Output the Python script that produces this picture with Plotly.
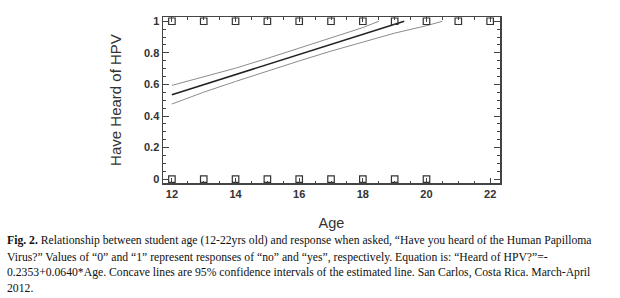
import plotly.graph_objects as go

# Observed responses (0 = no, 1 = yes)
ages_yes = [12, 13, 14, 15, 16, 17, 18, 19, 20, 21, 22]
heard_yes = [1, 1, 1, 1, 1, 1, 1, 1, 1, 1, 1]
ages_no = [12, 13, 14, 15, 16, 17, 18, 19, 20]
heard_no = [0, 0, 0, 0, 0, 0, 0, 0, 0]

# Estimated line
age_fit = [12, 13, 14, 15, 16, 17, 18, 19, 19.3]
heard_fit = [0.535, 0.599, 0.662, 0.726, 0.790, 0.853, 0.917, 0.980, 1.0]

# 95% confidence bands
age_upper = [12, 13, 14, 15, 16, 17, 18, 18.5]
heard_upper = [0.594, 0.647, 0.703, 0.765, 0.829, 0.893, 0.960, 1.0]
age_lower = [12, 13, 14, 15, 16, 17, 18, 19, 20, 20.5]
heard_lower = [0.476, 0.551, 0.619, 0.685, 0.749, 0.811, 0.870, 0.925, 0.972, 1.0]

x_ticks = [12, 14, 16, 18, 20, 22]
y_ticks = [0, 0.2, 0.4, 0.6, 0.8, 1]
y_labels = ["0", "0.2", "0.4", "0.6", "0.8", "1"]

caption_lines = [
    "<b>Fig. 2.</b> Relationship between student age (12-22yrs old) and response when asked, “Have you heard of the Human Papilloma",
    "Virus?” Values of “0” and “1” represent responses of “no” and “yes”, respectively. Equation is: “Heard of HPV?”=-",
    "0.2353+0.0640*Age. Concave lines are 95% confidence intervals of the estimated line. San Carlos, Costa Rica. March-April",
    "2012.",
]

fig = go.Figure()
fig.add_trace(go.Scatter(x=age_upper, y=heard_upper, mode="lines",
                         line=dict(color="#8c8c8c", width=1), showlegend=False))
fig.add_trace(go.Scatter(x=age_lower, y=heard_lower, mode="lines",
                         line=dict(color="#8c8c8c", width=1), showlegend=False))
fig.add_trace(go.Scatter(x=age_fit, y=heard_fit, mode="lines",
                         line=dict(color="#222222", width=1.6), showlegend=False))
fig.add_trace(go.Scatter(x=ages_yes, y=heard_yes, mode="markers",
                         marker=dict(symbol="square-open", size=6.5, color="#333333",
                                     line=dict(width=1.2)),
                         showlegend=False, cliponaxis=False))
fig.add_trace(go.Scatter(x=ages_no, y=heard_no, mode="markers",
                         marker=dict(symbol="square-open", size=6.5, color="#333333",
                                     line=dict(width=1.2)),
                         showlegend=False, cliponaxis=False))

fig.update_xaxes(range=[11.72, 22.31], tickvals=x_ticks, ticktext=[str(v) for v in x_ticks],
                 ticks="inside", ticklen=5, tickwidth=1, tickcolor="#444444",
                 minor=dict(dtick=0.5, tick0=12, ticks="inside", ticklen=2.5, tickcolor="#444444"),
                 showline=True, linecolor="#444444", linewidth=1.5, mirror="allticks",
                 showgrid=False, zeroline=False,
                 tickfont=dict(family="Liberation Sans, Arial", size=11, color="#333333", weight="bold"),
                 title=dict(text="Age", font=dict(family="Liberation Sans, Arial", size=14.5, color="#333333"),
                            standoff=19))
fig.update_yaxes(range=[-0.024, 1.027], tickvals=y_ticks, ticktext=y_labels,
                 ticks="inside", ticklen=6, tickwidth=1, tickcolor="#444444",
                 minor=dict(dtick=0.05, tick0=0, ticks="inside", ticklen=3, tickcolor="#444444"),
                 showline=True, linecolor="#444444", linewidth=1.5, mirror="allticks",
                 showgrid=False, zeroline=False,
                 tickfont=dict(family="Liberation Sans, Arial", size=11, color="#333333", weight="bold"),
                 title=dict(text="Have Heard of HPV",
                            font=dict(family="Liberation Sans, Arial", size=15, color="#333333"),
                            standoff=19))

line_y = [241, 257, 272.5, 288]
for txt, yy in zip(caption_lines, line_y):
    fig.add_annotation(text=txt, xref="paper", yref="paper",
                       x=(5 - 163) / (620 - 163 - 120), y=1 - (yy - 17) / (298 - 17 - 115),
                       xanchor="left", yanchor="middle", showarrow=False, align="left",
                       font=dict(family="Liberation Serif, Times New Roman", size=11.7, color="#111111"))

fig.update_layout(width=620, height=298, margin=dict(l=163, r=120, t=17, b=115),
                  paper_bgcolor="white", plot_bgcolor="white", hovermode=False)
fig.write_html("out.html", config={"displayModeBar": False, "staticPlot": True},
               post_script="document.body.style.margin='0';document.body.style.overflow='hidden';")
